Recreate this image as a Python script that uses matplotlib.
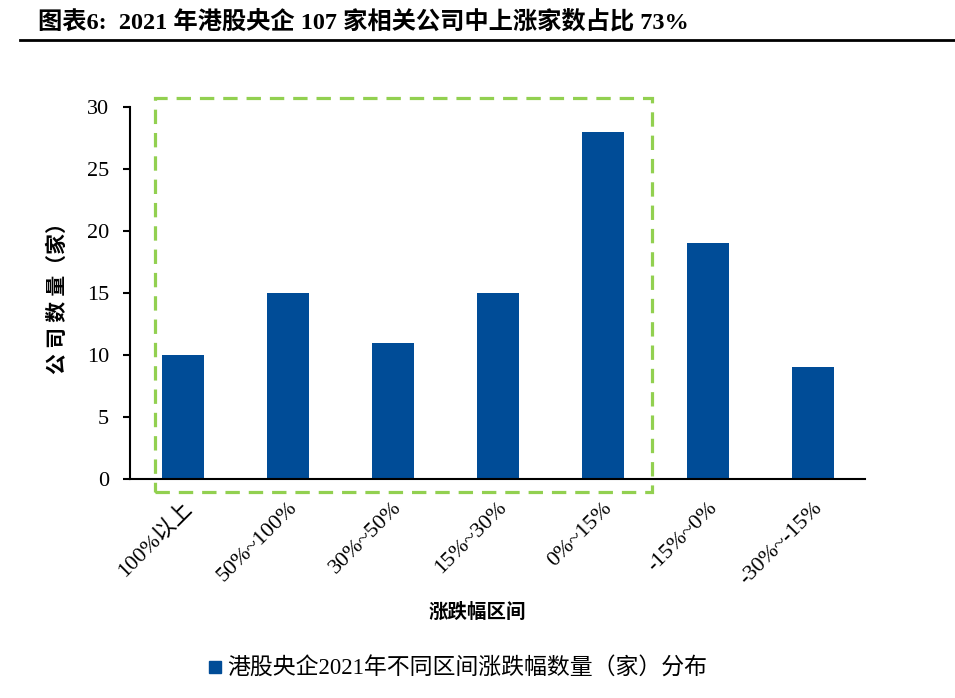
import matplotlib.pyplot as plt
from matplotlib.patches import Rectangle
from matplotlib.lines import Line2D

categories = ['100%以上', '50%~100%', '30%~50%', '15%~30%', '0%~15%', '-15%~0%', '-30%~-15%']
counts = [10, 15, 11, 15, 28, 19, 9]
yticks = [0, 5, 10, 15, 20, 25, 30]

title = '图表6:  2021 年港股央企 107 家相关公司中上涨家数占比 73%'
legend_label = '港股央企2021年不同区间涨跌幅数量（家）分布'

fonts = ['Liberation Serif', 'Noto Sans CJK SC']
plt.rcParams['font.family'] = fonts

bar_color = '#004C97'
box_color = '#92D050'

fig = plt.figure(figsize=(9.55, 6.98), dpi=100)
ax = fig.add_axes([130 / 955, 1 - 479 / 698, 735 / 955, 372 / 698])

x = list(range(len(categories)))
ax.bar(x, counts, width=0.4, color=bar_color, zorder=2)
ax.set_xlim(-0.5, len(categories) - 0.5)
ax.set_ylim(0, 30)
ax.set_yticks(yticks)
ax.set_xticks(x)
ax.set_xticklabels(categories, rotation=45, ha='right', rotation_mode='anchor', fontsize=16)
ax.tick_params(axis='x', length=0, pad=14)
ax.tick_params(axis='y', length=5, width=1.5, direction='out', labelsize=16, pad=10)
for s in ['top', 'right']:
    ax.spines[s].set_visible(False)
ax.spines['left'].set_linewidth(1.5)
ax.spines['bottom'].set_linewidth(1.5)

# green dashed box round the rising groups
box = Rectangle((-0.262, -1.05), 4.733, 31.78, fill=False, edgecolor=box_color,
                linewidth=2.3, linestyle=(0, (4.5, 2.8)), clip_on=False, zorder=3)
ax.add_patch(box)

ax.set_ylabel('公 司 数 量（家）', fontsize=15, fontweight='bold', labelpad=13)
fig.text(0.5, 1 - 612 / 698, '涨跌幅区间', ha='center', va='center',
         fontsize=14, fontweight='bold')

handle = Line2D([], [], marker='s', linestyle='none', color=bar_color, markersize=9)
fig.legend([handle], [legend_label], loc='center', bbox_to_anchor=(0.478, 1 - 669 / 698),
           frameon=False, fontsize=16.5, handletextpad=0.1, handlelength=0.8)

fig.text(38 / 955, 1 - 22 / 698, title, ha='left', va='center', fontsize=17.5, fontweight='bold')
fig.add_artist(Line2D([20 / 955, 1], [1 - 40 / 698] * 2, color='black', linewidth=2))

fig.savefig('out.png', dpi=100)
